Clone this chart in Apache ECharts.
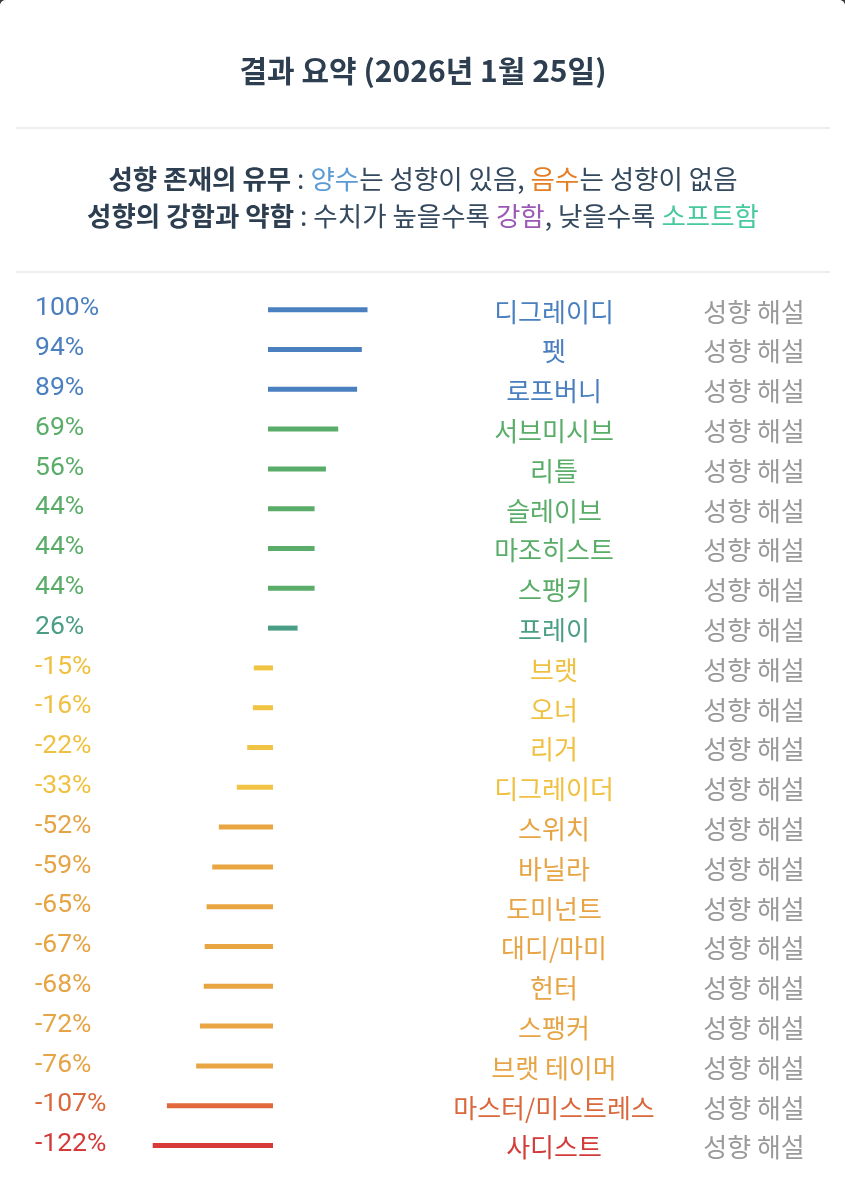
<!DOCTYPE html>
<html>
<head>
<meta charset="utf-8">
<script src="https://cdn.jsdelivr.net/npm/echarts@6/dist/echarts.min.js"></script>
<style>
  html, body { margin: 0; padding: 0; background: #3a3a3a; }
  #chart { width: 845px; height: 1200px; background: #fff; border-radius: 6px 6px 0 0; overflow: hidden; }
</style>
</head>
<body>
<div id="chart"></div>
<script>
// 성향 이름과 수치(%)
var names = ['디그레이디', '펫', '로프버니', '서브미시브', '리틀', '슬레이브', '마조히스트', '스팽키', '프레이',
    '브랫', '오너', '리거', '디그레이더', '스위치', '바닐라', '도미넌트', '대디/마미', '헌터', '스팽커',
    '브랫 테이머', '마스터/미스트레스', '사디스트'];
var values = [100, 94, 89, 69, 56, 44, 44, 44, 26,
    -15, -16, -22, -33, -52, -59, -65, -67, -68, -72, -76, -107, -122];
var noteLabel = '성향 해설';

// 수치 구간별 색
function colourFor(v) {
    if (v >= 80) return { bar: '#4a7fc0', text: '#4a7fc0' };
    if (v >= 30) return { bar: '#5aad68', text: '#5aad68' };
    if (v >= 0) return { bar: '#4a9e85', text: '#4a9e85' };
    if (v > -40) return { bar: '#f2c443', text: '#f0c040' };
    if (v > -100) return { bar: '#e8a542', text: '#e6a445' };
    if (v > -120) return { bar: '#e0683a', text: '#d9683c' };
    return { bar: '#d83a3a', text: '#d33a3a' };
}

var seriesData = [];
for (var i = 0; i < values.length; i++) {
    seriesData.push([values[i], i]);
}

var FONT = '"Noto Sans CJK KR", "Noto Sans", sans-serif';
var SUB = 26.5;

var option = {
    backgroundColor: '#fff',
    animation: false,
    graphic: [
        {
            type: 'text',
            style: {
                text: '결과 요약 (2026년 1월 25일)',
                x: 423, y: 71,
                align: 'center', verticalAlign: 'middle',
                fill: '#2c3e50',
                font: 'bold 30px ' + FONT
            }
        },
        {
            type: 'line',
            shape: { x1: 16, y1: 128, x2: 830, y2: 128 },
            style: { stroke: '#eceef0', lineWidth: 2 }
        },
        {
            type: 'text',
            style: {
                text: '{b|성향 존재의 유무} : {blue|양수}는 성향이 있음, {orange|음수}는 성향이 없음',
                x: 423, y: 179,
                align: 'center', verticalAlign: 'middle',
                fill: '#34495e',
                font: SUB + 'px ' + FONT,
                rich: {
                    b: { fontWeight: 'bold', fill: '#2c3e50', fontSize: SUB, fontFamily: FONT },
                    blue: { fill: '#5b9bd5', fontSize: SUB, fontFamily: FONT },
                    orange: { fill: '#e67e22', fontSize: SUB, fontFamily: FONT }
                }
            }
        },
        {
            type: 'text',
            style: {
                text: '{b|성향의 강함과 약함} : 수치가 높을수록 {purple|강함}, 낮을수록 {green|소프트함}',
                x: 423, y: 216,
                align: 'center', verticalAlign: 'middle',
                fill: '#34495e',
                font: SUB + 'px ' + FONT,
                rich: {
                    b: { fontWeight: 'bold', fill: '#2c3e50', fontSize: SUB, fontFamily: FONT },
                    purple: { fill: '#9b59b6', fontSize: SUB, fontFamily: FONT },
                    green: { fill: '#48c9a0', fontSize: SUB, fontFamily: FONT }
                }
            }
        },
        {
            type: 'line',
            shape: { x1: 16, y1: 272, x2: 830, y2: 272 },
            style: { stroke: '#eceef0', lineWidth: 2 }
        }
    ],
    grid: {
        left: 147.65,
        right: 470.55,
        top: 289.8,
        bottom: 34.6
    },
    xAxis: {
        type: 'value',
        min: -130,
        max: 110,
        show: false
    },
    yAxis: {
        type: 'category',
        data: names,
        inverse: true,
        show: false
    },
    series: [{
        type: 'custom',
        data: seriesData,
        renderItem: function (params, api) {
            var v = api.value(0);
            var idx = api.value(1);
            var p0 = api.coord([0, idx]);
            var p1 = api.coord([v, idx]);
            var c = colourFor(v);
            var y = p0[1];
            return {
                type: 'group',
                children: [
                    {
                        type: 'line',
                        shape: { x1: p0[0], y1: y, x2: p1[0], y2: y },
                        style: { stroke: c.bar, lineWidth: 5, lineCap: 'square' }
                    },
                    {
                        type: 'text',
                        style: {
                            text: v + '%', x: 35, y: y - 1,
                            align: 'left', verticalAlign: 'middle',
                            fill: c.text, font: '26.5px Roboto'
                        }
                    },
                    {
                        type: 'text',
                        style: {
                            text: names[idx], x: 554, y: y + 2,
                            align: 'center', verticalAlign: 'middle',
                            fill: c.text, font: '26px ' + FONT
                        }
                    },
                    {
                        type: 'text',
                        style: {
                            text: noteLabel, x: 754, y: y + 2,
                            align: 'center', verticalAlign: 'middle',
                            fill: '#9a9a9a', font: '26px ' + FONT
                        }
                    }
                ]
            };
        }
    }]
};

var myChart = echarts.init(document.getElementById('chart'));
myChart.setOption(option);
</script>
</body>
</html>
